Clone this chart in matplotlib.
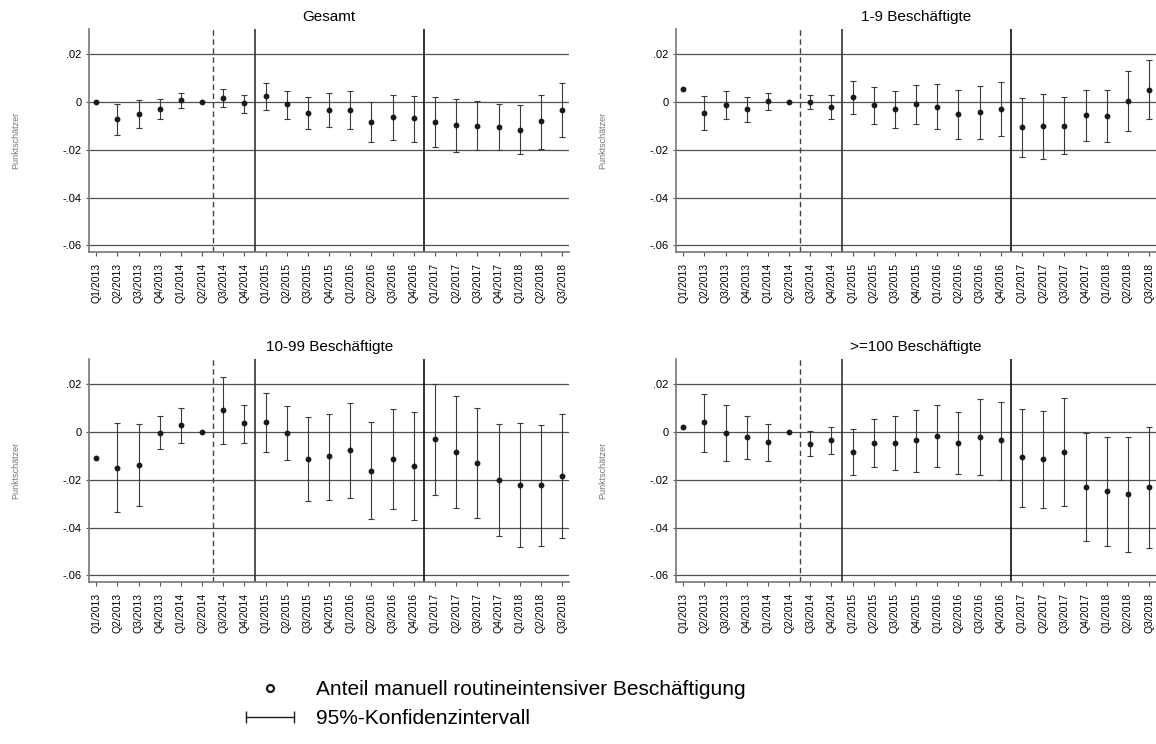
import numpy as np
import matplotlib.pyplot as plt
from matplotlib.lines import Line2D
from matplotlib.legend_handler import HandlerLine2D

plt.rcParams['font.family'] = ['Liberation Sans', 'DejaVu Sans']

quarters = ["Q1/2013", "Q2/2013", "Q3/2013", "Q4/2013",
            "Q1/2014", "Q2/2014", "Q3/2014", "Q4/2014",
            "Q1/2015", "Q2/2015", "Q3/2015", "Q4/2015",
            "Q1/2016", "Q2/2016", "Q3/2016", "Q4/2016",
            "Q1/2017", "Q2/2017", "Q3/2017", "Q4/2017",
            "Q1/2018", "Q2/2018", "Q3/2018"]

# Punktschätzer und 95%-Konfidenzgrenzen (None = ohne Intervall)
gesamt_est = [0.0, -0.0072, -0.0052, -0.0029, 0.0006, 0.0, 0.0017, -0.0007,
              0.0024, -0.0011, -0.0047, -0.0035, -0.0035, -0.0085, -0.0064,
              -0.0068, -0.0085, -0.0098, -0.0100, -0.0105, -0.0116, -0.0082,
              -0.0036]
gesamt_lo = [None, -0.0139, -0.0111, -0.0072, -0.0028, None, -0.0021, -0.0047,
             -0.0033, -0.0072, -0.0113, -0.0106, -0.0114, -0.0170, -0.0159,
             -0.0167, -0.0190, -0.0209, -0.0203, -0.0202, -0.0217, -0.0197,
             -0.0148]
gesamt_hi = [None, -0.0008, 0.0006, 0.0010, 0.0038, None, 0.0053, 0.0029,
             0.0078, 0.0046, 0.0021, 0.0036, 0.0046, 0.0000, 0.0029,
             0.0025, 0.0018, 0.0010, 0.0003, -0.0008, -0.0013, 0.0028,
             0.0077]

klein_est = [0.0054, -0.0046, -0.0014, -0.0029, 0.0004, 0.0, 0.0001, -0.0020,
             0.0020, -0.0014, -0.0031, -0.0008, -0.0020, -0.0052, -0.0042,
             -0.0029, -0.0107, -0.0102, -0.0100, -0.0057, -0.0059, 0.0004,
             0.0050]
klein_lo = [None, -0.0118, -0.0072, -0.0086, -0.0033, None, -0.0031, -0.0070,
            -0.0050, -0.0091, -0.0110, -0.0091, -0.0114, -0.0156, -0.0156,
            -0.0142, -0.0231, -0.0240, -0.0219, -0.0163, -0.0167, -0.0121,
            -0.0072]
klein_hi = [None, 0.0025, 0.0046, 0.0021, 0.0038, None, 0.0029, 0.0028,
            0.0089, 0.0063, 0.0046, 0.0070, 0.0074, 0.0049, 0.0068,
            0.0082, 0.0015, 0.0033, 0.0021, 0.0050, 0.0049, 0.0130,
            0.0174]

mittel_est = [-0.0109, -0.0151, -0.0140, -0.0004, 0.0029, 0.0, 0.0091, 0.0035,
              0.0041, -0.0004, -0.0112, -0.0103, -0.0077, -0.0162, -0.0112,
              -0.0141, -0.0032, -0.0084, -0.0130, -0.0201, -0.0221, -0.0222,
              -0.0183]
mittel_lo = [None, -0.0337, -0.0312, -0.0073, -0.0045, None, -0.0052, -0.0048,
             -0.0084, -0.0119, -0.0291, -0.0284, -0.0277, -0.0366, -0.0323,
             -0.0369, -0.0264, -0.0317, -0.0362, -0.0435, -0.0482, -0.0478,
             -0.0443]
mittel_hi = [None, 0.0036, 0.0031, 0.0064, 0.0101, None, 0.0229, 0.0112,
             0.0162, 0.0109, 0.0062, 0.0073, 0.0122, 0.0039, 0.0097,
             0.0081, 0.0201, 0.0148, 0.0101, 0.0032, 0.0038, 0.0029,
             0.0076]

gross_est = [0.0020, 0.0039, -0.0004, -0.0022, -0.0043, 0.0, -0.0049, -0.0036,
             -0.0083, -0.0046, -0.0046, -0.0036, -0.0017, -0.0046, -0.0021,
             -0.0036, -0.0106, -0.0112, -0.0083, -0.0229, -0.0248, -0.0259,
             -0.0229]
gross_lo = [None, -0.0084, -0.0122, -0.0113, -0.0122, None, -0.0103, -0.0092,
            -0.0180, -0.0148, -0.0159, -0.0168, -0.0148, -0.0175, -0.0180,
            -0.0201, -0.0315, -0.0319, -0.0312, -0.0455, -0.0476, -0.0503,
            -0.0484]
gross_hi = [None, 0.0158, 0.0112, 0.0064, 0.0031, None, 0.0003, 0.0018,
            0.0013, 0.0055, 0.0066, 0.0092, 0.0112, 0.0081, 0.0136,
            0.0126, 0.0094, 0.0087, 0.0141, -0.0004, -0.0021, -0.0021,
            0.0020]

titles = ["Gesamt", "1-9 Beschäftigte", "10-99 Beschäftigte", ">=100 Beschäftigte"]
panels = [(gesamt_est, gesamt_lo, gesamt_hi), (klein_est, klein_lo, klein_hi),
          (mittel_est, mittel_lo, mittel_hi), (gross_est, gross_lo, gross_hi)]

yticks = [0.02, 0.0, -0.02, -0.04, -0.06]
yticklabels = [".02", "0", "-.02", "-.04", "-.06"]

W, H = 1156, 744
fig = plt.figure(figsize=(W / 100, H / 100), dpi=100)

# Achsenboxen in Pixeln (links, oben); gleiche Breite und Höhe
boxes = [(89.3, 29.3), (676.3, 29.3), (89.3, 359.3), (676.3, 359.3)]
aw, ah = 479.7, 223.0

x = np.arange(len(quarters))
for title, (est, lo, hi), (left, top) in zip(titles, panels, boxes):
    ax = fig.add_axes([left / W, 1 - (top + ah) / H, aw / W, ah / H])

    est = np.array(est)
    ci = np.array([v is not None for v in lo])
    lo_a = np.array([v for v in lo if v is not None])
    hi_a = np.array([v for v in hi if v is not None])

    ax.errorbar(x[ci], est[ci], yerr=[est[ci] - lo_a, hi_a - est[ci]],
                fmt='none', ecolor='#3a3a3a', elinewidth=0.8,
                capsize=2, capthick=0.8, zorder=3)
    ax.plot(x, est, 'o', ms=3.2, color='#1a1a1a', zorder=4)

    ax.axvline(5.5, color='#444444', lw=1.0, ls=(0, (4, 2.5)), zorder=2)
    ax.axvline(7.5, color='#333333', lw=1.2, zorder=2)
    ax.axvline(15.5, color='#111111', lw=1.2, zorder=2)

    ax.set_xlim(-0.33, 22.33)
    ax.set_ylim(-0.0629, 0.0303)
    ax.set_yticks(yticks)
    ax.set_yticklabels(yticklabels, fontsize=8)
    ax.set_xticks(x)
    ax.set_xticklabels(quarters, rotation=90, fontsize=7.5)
    ax.yaxis.grid(True, color='#505050', lw=0.9)
    ax.set_axisbelow(True)

    for side in ('top', 'right'):
        ax.spines[side].set_visible(False)
    for side in ('left', 'bottom'):
        ax.spines[side].set_color('#777777')
        ax.spines[side].set_linewidth(1.2)
    ax.tick_params(axis='y', length=2.5, width=0.8, color='#555555', pad=3)
    ax.tick_params(axis='x', length=3, width=0.8, color='#555555', pad=4.5)

    ax.set_title(title, fontsize=11, pad=6)
    ax.set_ylabel("Punktschätzer", fontsize=6.5, color='#777777')
    ax.yaxis.set_label_coords(-69 / aw, 0.5)

h_est = Line2D([], [], ls='none', marker='o', ms=5, mfc='white',
               mec='#1a1a1a', mew=1.6)
h_ci = Line2D([], [], color='#1a1a1a', lw=1.0, marker='|', ms=9, mew=1.0)
fig.legend([h_est, h_ci],
           ["Anteil manuell routineintensiver Beschäftigung",
            "95%-Konfidenzintervall"],
           handler_map={h_est: HandlerLine2D(numpoints=1),
                        h_ci: HandlerLine2D(numpoints=2)},
           loc='upper left', bbox_to_anchor=(240 / W, 1 - 680 / H),
           frameon=False, fontsize=15, handlelength=2.9,
           handletextpad=0.75, labelspacing=0.5, borderpad=0,
           borderaxespad=0)

fig.savefig("out.png", dpi=100)
